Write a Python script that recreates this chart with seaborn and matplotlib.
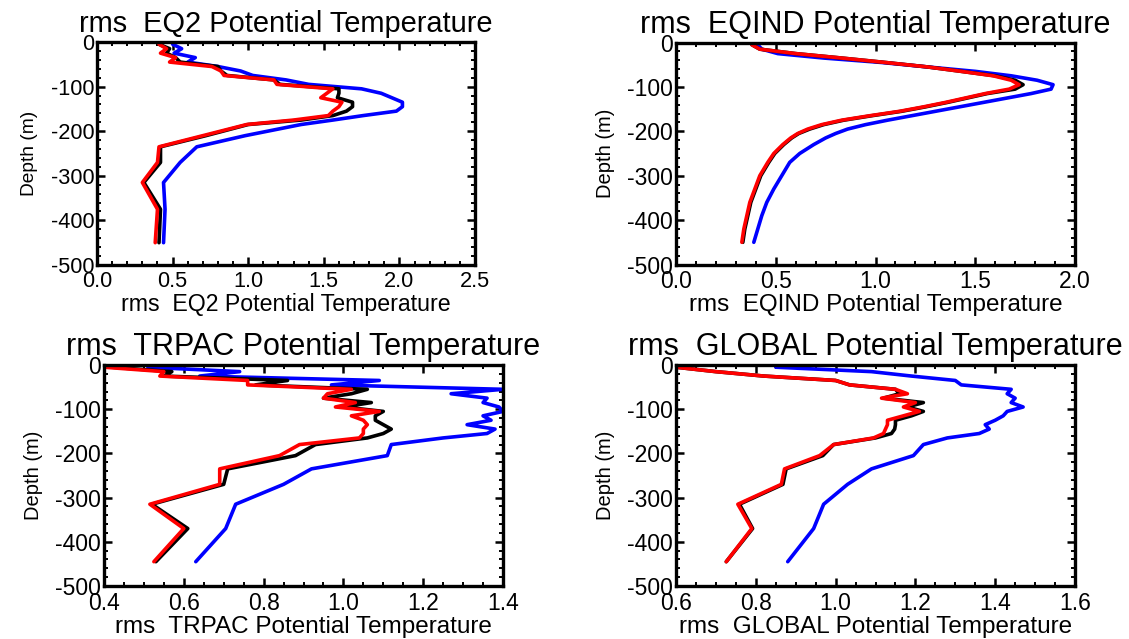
import numpy as np
import pandas as pd
import seaborn as sns
import matplotlib
matplotlib.use("Agg")
import matplotlib.pyplot as plt
from matplotlib.ticker import MultipleLocator, FormatStrFormatter

# ---------------- data ----------------
series_names = ["blue", "black", "red"]
series_colors = ["#0000ff", "#000000", "#ff0000"]

# EQ2
depth_eq2 = [-5, -15, -25, -35, -45, -55, -65, -75, -85, -95, -105, -115, -125,
             -135, -145, -155, -165, -175, -185, -210, -235, -270, -315, -375, -450]
eq2_blue = [0.50, 0.56, 0.51, 0.65, 0.60, 0.80, 0.95, 1.03, 1.25, 1.40, 1.75, 1.88, 1.95,
            2.02, 2.02, 1.98, 1.76, 1.56, 1.35, 0.98, 0.66, 0.55, 0.44, 0.45, 0.44]
eq2_black = [0.41, 0.48, 0.46, 0.52, 0.55, 0.80, 0.82, 0.86, 1.17, 1.21, 1.60, 1.60, 1.59,
             1.69, 1.69, 1.65, 1.56, 1.35, 1.00, 0.72, 0.42, 0.42, 0.31, 0.42, 0.41]
eq2_red = [0.41, 0.46, 0.42, 0.52, 0.48, 0.76, 0.82, 0.84, 1.17, 1.19, 1.56, 1.52, 1.48,
           1.62, 1.60, 1.56, 1.53, 1.30, 0.99, 0.70, 0.41, 0.40, 0.30, 0.40, 0.385]

# EQIND
depth_eqind = [-5, -15, -25, -35, -45, -55, -65, -75, -85, -95, -105, -115, -125, -135,
               -145, -155, -165, -175, -185, -195, -205, -215, -230, -250, -270, -300,
               -330, -360, -390, -420, -450]
eqind_blue = [0.41, 0.43, 0.51, 0.74, 1.03, 1.26, 1.50, 1.68, 1.81, 1.89, 1.88, 1.78, 1.66,
              1.54, 1.42, 1.30, 1.18, 1.06, 0.95, 0.86, 0.80, 0.75, 0.69, 0.62, 0.57, 0.53,
              0.49, 0.455, 0.43, 0.41, 0.39]
eqind_black = [0.38, 0.42, 0.60, 0.83, 1.05, 1.26, 1.43, 1.60, 1.70, 1.74, 1.70, 1.56, 1.46,
               1.36, 1.25, 1.13, 0.98, 0.84, 0.74, 0.67, 0.615, 0.58, 0.54, 0.495, 0.465,
               0.425, 0.40, 0.375, 0.36, 0.345, 0.335]
eqind_red = [0.38, 0.42, 0.60, 0.83, 1.05, 1.26, 1.43, 1.59, 1.68, 1.72, 1.67, 1.55, 1.45,
             1.35, 1.24, 1.12, 0.97, 0.83, 0.73, 0.66, 0.61, 0.575, 0.535, 0.49, 0.46,
             0.42, 0.395, 0.37, 0.355, 0.34, 0.33]

# TRPAC
depth_trpac = [-5, -15, -25, -35, -45, -55, -65, -75, -85, -95, -105, -115, -125, -135,
               -145, -155, -165, -180, -205, -235, -270, -315, -370, -445]
trpac_blue = [0.51, 0.74, 0.64, 1.09, 0.97, 1.40, 1.27, 1.36, 1.35, 1.39, 1.40, 1.35, 1.37,
              1.31, 1.38, 1.36, 1.25, 1.12, 1.11, 0.92, 0.85, 0.73, 0.705, 0.63]
trpac_black = [0.42, 0.57, 0.55, 0.86, 0.78, 1.06, 1.02, 0.95, 1.07, 1.00, 1.10, 1.08, 1.08,
               1.10, 1.12, 1.10, 1.06, 0.93, 0.88, 0.71, 0.70, 0.52, 0.61, 0.53]
trpac_red = [0.40, 0.55, 0.54, 0.76, 0.76, 1.02, 0.96, 0.95, 1.03, 0.98, 1.09, 1.02, 1.05,
             1.06, 1.05, 1.05, 1.04, 0.89, 0.84, 0.69, 0.69, 0.515, 0.60, 0.525]

# GLOBAL
depth_global = [-5, -15, -25, -35, -45, -55, -65, -75, -85, -95, -105, -115, -125, -135,
                -145, -155, -165, -180, -205, -235, -270, -315, -370, -445]
global_blue = [0.85, 1.09, 1.19, 1.30, 1.315, 1.44, 1.43, 1.45, 1.44, 1.47, 1.43, 1.42, 1.40,
               1.375, 1.385, 1.36, 1.28, 1.22, 1.195, 1.09, 1.03, 0.97, 0.945, 0.88]
global_black = [0.60, 0.70, 0.82, 1.00, 1.035, 1.15, 1.16, 1.12, 1.22, 1.18, 1.22, 1.19, 1.15,
                1.15, 1.148, 1.14, 1.10, 0.995, 0.968, 0.876, 0.868, 0.759, 0.792, 0.726]
global_red = [0.60, 0.70, 0.82, 1.00, 1.035, 1.15, 1.18, 1.115, 1.20, 1.17, 1.21, 1.17, 1.13,
              1.13, 1.125, 1.12, 1.095, 0.995, 0.96, 0.872, 0.864, 0.755, 0.79, 0.726]

region_names = ["EQ2", "EQIND", "TRPAC", "GLOBAL"]
x_limits = [(0.0, 2.5), (0.0, 2.0), (0.4, 1.4), (0.6, 1.6)]
x_major = [0.5, 0.5, 0.2, 0.2]
x_minor = [0.1, 0.1, 0.05, 0.05]
y_limits = (-500, 0)

panel_data = [
    (depth_eq2, [eq2_blue, eq2_black, eq2_red]),
    (depth_eqind, [eqind_blue, eqind_black, eqind_red]),
    (depth_trpac, [trpac_blue, trpac_black, trpac_red]),
    (depth_global, [global_blue, global_black, global_red]),
]

# ---------------- style ----------------
sns.set_theme(style="ticks", rc={
    "xtick.direction": "in", "ytick.direction": "in",
    "xtick.top": True, "ytick.right": True,
    "axes.linewidth": 2.4,
    "xtick.major.size": 6, "ytick.major.size": 6,
    "xtick.minor.size": 3, "ytick.minor.size": 3,
    "xtick.major.width": 1.8, "ytick.major.width": 1.8,
    "xtick.minor.width": 1.4, "ytick.minor.width": 1.4,
    "axes.unicode_minus": False,
    "axes.edgecolor": "black",
    "xtick.color": "black", "ytick.color": "black",
    "text.color": "black", "axes.labelcolor": "black",
})
plt.rcParams["font.family"] = ["Liberation Sans", "DejaVu Sans"]

fig = plt.figure(figsize=(11.29, 6.39), dpi=100)
W, H = 1129, 639
boxes = [(97, 42, 475, 265), (676, 42.5, 1075, 264.5),
         (104, 365, 503, 586), (676, 365, 1075, 586)]
# per-panel text scale (top-left panel is rendered a bit smaller)
scales = [0.95, 1.0, 1.0, 1.0]

for i, (box, (depth, vals)) in enumerate(zip(boxes, panel_data)):
    l, t, r, b = box
    k = scales[i]
    ax = fig.add_axes([l / W, 1 - b / H, (r - l) / W, (b - t) / H])
    rows = []
    for name, v in zip(series_names, vals):
        for d, x in zip(depth, v):
            rows.append({"depth": d, "value": x, "series": name})
    df = pd.DataFrame(rows)
    sns.lineplot(data=df, x="value", y="depth", hue="series", hue_order=series_names,
                 palette=series_colors, sort=False, estimator=None, lw=2.6,
                 legend=False, ax=ax)
    ax.set_xlim(*x_limits[i])
    ax.set_ylim(*y_limits)
    ax.xaxis.set_major_locator(MultipleLocator(x_major[i]))
    ax.xaxis.set_minor_locator(MultipleLocator(x_minor[i]))
    ax.xaxis.set_major_formatter(FormatStrFormatter("%.1f"))
    ax.yaxis.set_major_locator(MultipleLocator(100))
    ax.yaxis.set_minor_locator(MultipleLocator(20))
    ax.tick_params(axis="both", which="both", labelsize=16.5 * k)
    ax.tick_params(axis="y", which="major", pad=2)
    ax.tick_params(axis="x", which="major", pad=4)
    label = f"rms  {region_names[i]} Potential Temperature"
    ax.set_title(label, fontsize=22 * k, pad=7)
    ax.set_xlabel(label, fontsize=17.5 * k, labelpad=1)
    ax.set_ylabel("Depth (m)", fontsize=14.5 * k, labelpad=9)
    for s in ax.spines.values():
        s.set_linewidth(2.4)

fig.savefig("out.png", dpi=100, facecolor="white")
